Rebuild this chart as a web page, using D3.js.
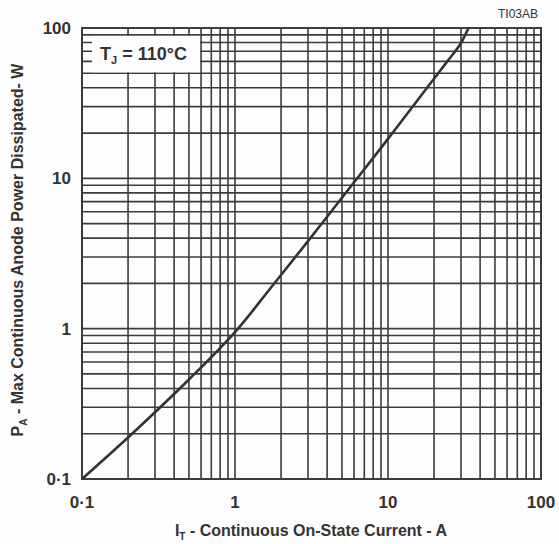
<!DOCTYPE html>
<html>
<head>
<meta charset="utf-8">
<script src="https://cdn.jsdelivr.net/npm/d3@7"></script>
<style>
  body { margin: 0; background: #fdfdfd; }
  text { font-family: "Liberation Sans", Arial, sans-serif; fill: #333; }
</style>
</head>
<body>
<div id="chart"></div>
<script>
var w = 559
var h = 544
var margin = {top: 28, right: 18, bottom: 65, left: 82}

// curve (current A, power W)
var current = [0.1, 0.2, 0.3, 0.5, 1, 1.7, 3, 5.4, 8.9, 11.4, 14.6, 18.8, 24.2, 29.6, 32.4, 33.6]
var power   = [0.1, 0.189, 0.278, 0.459, 0.95, 1.85, 3.82, 8.2, 15.7, 21.8, 30.3, 42.4, 59.3, 77.6, 92.5, 100]

var xTicks = [0.1, 1, 10, 100]
var xTickLabels = ["0·1", "1", "10", "100"]
var yTicks = [0.1, 1, 10, 100]
var yTickLabels = ["0·1", "1", "10", "100"]

var svg = d3.select("#chart").append("svg").attr("width", w).attr("height", h)

var x = d3.scaleLog().domain([0.1, 100]).range([margin.left, w - margin.right])
var y = d3.scaleLog().domain([0.1, 100]).range([h - margin.bottom, margin.top])

var gridColor = "#3c3c3c"

// grid lines (1..9 in every decade)
svg.append("g").selectAll("line")
    .data(x.ticks())
    .enter()
    .append("line")
    .attr("x1", function(d) { return x(d) })
    .attr("x2", function(d) { return x(d) })
    .attr("y1", y(0.1))
    .attr("y2", y(100))
    .attr("stroke", gridColor)
    .attr("stroke-width", 1.6)

svg.append("g").selectAll("line")
    .data(y.ticks())
    .enter()
    .append("line")
    .attr("y1", function(d) { return y(d) })
    .attr("y2", function(d) { return y(d) })
    .attr("x1", x(0.1))
    .attr("x2", x(100))
    .attr("stroke", gridColor)
    .attr("stroke-width", 1.6)

// white label box covering the grid
svg.append("rect")
    .attr("x", x(0.1) + 10)
    .attr("y", y(90) + 1)
    .attr("width", x(0.6) - x(0.1) - 11)
    .attr("height", y(50) - y(90) - 2)
    .attr("fill", "#fdfdfd")

var tj = svg.append("text")
    .attr("x", 100)
    .attr("y", 60)
    .attr("font-size", 18)
    .attr("font-weight", "bold")
tj.append("tspan").text("T")
tj.append("tspan").text("J").attr("font-size", 11).attr("dy", 4)
tj.append("tspan").text(" = 110°C").attr("dy", -4)

// frame
svg.append("rect")
    .attr("x", x(0.1))
    .attr("y", y(100))
    .attr("width", x(100) - x(0.1))
    .attr("height", y(0.1) - y(100))
    .attr("fill", "none")
    .attr("stroke", gridColor)
    .attr("stroke-width", 2)

// curve
var line = d3.line()
    .x(function(d, i) { return x(current[i]) })
    .y(function(d, i) { return y(power[i]) })
    .curve(d3.curveCatmullRom.alpha(0.5))

svg.append("path")
    .datum(current)
    .attr("d", line)
    .attr("fill", "none")
    .attr("stroke", "#333")
    .attr("stroke-width", 2.6)

// tick labels
svg.append("g").selectAll("text")
    .data(xTicks)
    .enter()
    .append("text")
    .text(function(d, i) { return xTickLabels[i] })
    .attr("x", function(d) { return x(d) })
    .attr("y", 508)
    .attr("text-anchor", "middle")
    .attr("font-size", 17)
    .attr("font-weight", "bold")

svg.append("g").selectAll("text")
    .data(yTicks)
    .enter()
    .append("text")
    .text(function(d, i) { return yTickLabels[i] })
    .attr("x", 71)
    .attr("y", function(d) { return y(d) + 6 })
    .attr("text-anchor", "end")
    .attr("font-size", 17)
    .attr("font-weight", "bold")

// axis titles
var xt = svg.append("text")
    .attr("x", 311)
    .attr("y", 536)
    .attr("text-anchor", "middle")
    .attr("font-size", 16)
    .attr("font-weight", "bold")
xt.append("tspan").text("I")
xt.append("tspan").text("T").attr("font-size", 10).attr("dy", 4)
xt.append("tspan").text(" - Continuous On-State Current - A").attr("dy", -4)

var yt = svg.append("text")
    .attr("transform", "translate(23," + 250 + ") rotate(-90)")
    .attr("text-anchor", "middle")
    .attr("font-size", 16)
    .attr("font-weight", "bold")
yt.append("tspan").text("P")
yt.append("tspan").text("A").attr("font-size", 10).attr("dy", 4)
yt.append("tspan").text(" - Max Continuous Anode Power Dissipated- W").attr("dy", -4)

svg.append("text")
    .text("TI03AB")
    .attr("x", 538)
    .attr("y", 18)
    .attr("text-anchor", "end")
    .attr("font-size", 12)
</script>
</body>
</html>
